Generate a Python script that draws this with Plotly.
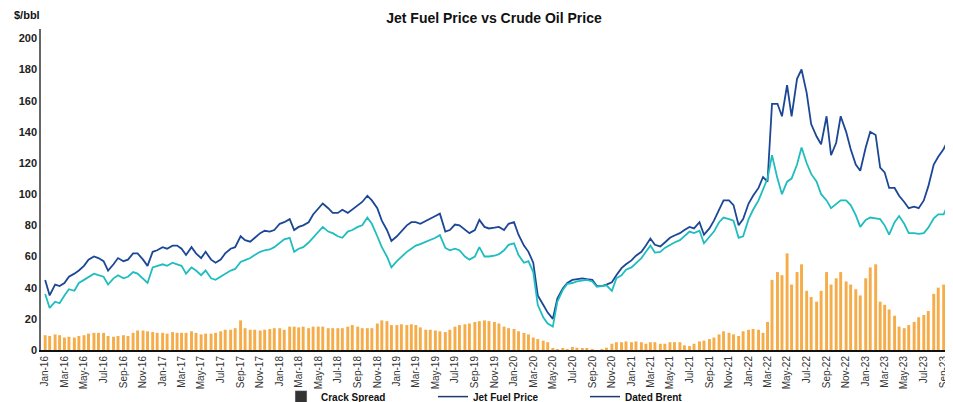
import pandas as pd
import plotly.graph_objects as go

# Semi-monthly observations (1st and 15th of each month), Jan-2016 .. Sep-2023, plus last day shown
dates = list(pd.date_range("2016-01-01", "2023-09-15", freq="SMS")) + [pd.Timestamp("2023-09-28")]

jet_fuel = [
    45, 35, 42, 41, 43, 47, 49, 51, 54, 58,
    60, 59, 57, 51, 55, 59, 57, 58, 62, 62,
    58, 54, 63, 64, 66, 65, 67, 67, 65, 61,
    66, 62, 59, 63, 58, 56, 58, 62, 65, 66,
    73, 70.5, 69.5, 72, 75, 76.5, 76, 77, 81, 82,
    84, 77, 79, 80, 82, 87, 91, 94, 91, 88,
    88, 90, 88, 90, 93, 95, 99, 96, 91, 83,
    77, 70, 73, 76, 80, 82, 82, 81, 83, 84.5,
    86, 87.5, 76, 77, 80.5, 80, 77, 75, 77, 83.5,
    79, 78, 78.5, 79, 77, 81, 82, 74, 67, 63,
    56, 35, 29, 24, 20, 33, 39.5, 43, 45, 45.5,
    46, 45.5, 45, 41, 41, 42, 43.5, 48, 52.5, 55,
    57.5, 60.5, 63, 67, 71.5, 67.5, 66.5, 69, 72, 73.5,
    75, 77, 79, 78, 82, 74, 78, 83, 90, 96,
    96, 93, 80, 84, 94, 99, 104, 111, 108, 158,
    158, 150, 170, 150, 174, 180, 165, 145, 137, 132,
    150, 125, 133, 150, 140, 129, 119, 115, 130, 140,
    138, 117, 114, 104, 104, 99, 95, 91, 92, 91,
    96, 105, 119, 124, 129, 135,
    131,
]

dated_brent = [
    36, 27, 31, 30, 35, 39, 38, 43, 45, 47,
    49, 48, 47, 42, 46, 48, 46, 47, 50, 49,
    46, 43, 53, 54, 55, 54, 56, 55, 54, 49,
    53, 51, 48, 51, 46, 45, 47, 49, 51, 52,
    56.5, 57.7, 59, 61, 63, 64, 64.5, 66, 69, 71,
    72, 63, 65, 66, 69, 72, 76, 79, 76, 75,
    73, 72, 76, 77, 79, 80, 85, 81, 73, 66,
    60, 53, 57, 60, 63, 65, 67, 68, 69.4, 70.5,
    72, 73.7, 65.5, 64, 65, 64, 60, 58, 60, 66,
    60, 60, 60.5, 61.5, 64, 67.5, 68.5, 61, 56, 57,
    50, 29, 21, 17, 15, 31, 38.5, 42.5, 43, 44,
    44.5, 45, 44, 40.5, 41, 41.5, 38, 46, 48, 51.5,
    53, 56, 59, 63, 67, 62.5, 63, 65.5, 67.5, 69,
    70.5, 73, 76, 75, 76.5, 68.5, 72.5, 76, 82, 85,
    84, 83, 72, 73, 84, 90, 96, 103, 110, 125,
    110, 100, 108, 110, 119, 130, 120, 113, 108, 100,
    96, 91, 94, 96, 96, 93, 86.5, 79, 83.5, 85,
    84.5, 84, 80, 74, 82, 86, 81, 75, 75, 74.5,
    75, 78.5, 84.5, 87, 87, 94,
    96,
]

crack_spread = [
    9.5, 9, 10, 9.5, 8, 8.5, 8, 9, 9.5, 10.5,
    11, 11, 11, 9, 8.5, 9, 9.5, 9, 11, 12.5,
    12.5, 12, 11.5, 11, 11, 10.5, 11.5, 11, 11, 11,
    12, 11, 10, 10.5, 10.5, 11, 12, 13, 13, 14,
    19, 14, 13, 13, 12.5, 13, 13.5, 14, 14, 13,
    15, 15, 14.5, 15, 14, 15, 15, 15, 14, 14,
    14, 14, 15, 16, 15, 14, 14, 14, 17, 19,
    18.5, 16, 16, 16.5, 16, 16.5, 16, 14.5, 13, 13,
    12.5, 12, 11.5, 13, 15, 16, 16.5, 17, 18, 18.5,
    19, 18.5, 18, 17, 15, 14, 13.5, 12, 11, 10,
    8, 7, 6, 5, 1, 0.5, 1, 0.5, 2, 1.5,
    1, 1, 0.5, 0, 0.3, 1.5, 4, 5, 5, 5.5,
    5, 5.5, 5, 4, 5, 5, 4, 4, 5, 5,
    5, 3, 2.5, 4, 5.5, 6, 7, 8, 10, 12,
    11, 10, 9, 12, 13, 13.5, 13, 11, 18, 45,
    50, 48, 62, 42, 50, 55, 38, 34, 31, 38,
    50, 42, 46, 50, 44, 42, 39, 35, 46, 53,
    55, 31, 29, 26, 22, 15, 14, 16, 18, 21,
    22.5, 25, 36, 40, 42, 41,
    36,
]

y_ticks = [0, 20, 40, 60, 80, 100, 120, 140, 160, 180, 200]

assert len(dates) == len(jet_fuel) == len(dated_brent) == len(crack_spread)

FONT = "Liberation Sans, Arial, sans-serif"

# The page body keeps its default 8px margin, so the figure is drawn 8px smaller.
W, H = 945, 394
L, R, T, B = 33, 0, 21, 52
PW, PH = W - L - R, H - T - B

fig = go.Figure()
fig.add_trace(go.Bar(x=dates, y=crack_spread, marker_color="#F6AC48",
                     marker_line_width=0, showlegend=False, name="Crack Spread"))
fig.add_trace(go.Scatter(x=dates, y=jet_fuel, mode="lines",
                         line=dict(color="#1B4796", width=1.8), showlegend=False, name="Jet Fuel Price"))
fig.add_trace(go.Scatter(x=dates, y=dated_brent, mode="lines",
                         line=dict(color="#1FBDBF", width=1.8), showlegend=False, name="Dated Brent"))

# legend entries (the reference legend uses dark swatches)
fig.add_trace(go.Bar(x=[None], y=[None], marker_color="#333333", name="Crack Spread"))
fig.add_trace(go.Scatter(x=[None], y=[None], mode="lines", line=dict(color="#1E3A70", width=1.5),
                         name="Jet Fuel Price"))
fig.add_trace(go.Scatter(x=[None], y=[None], mode="lines", line=dict(color="#1E3A70", width=1.5),
                         name="Dated Brent"))

fig.update_layout(
    width=W, height=H,
    margin=dict(l=L, r=R, t=T, b=B, autoexpand=False),
    paper_bgcolor="white", plot_bgcolor="white",
    bargap=0.3,
    font=dict(family=FONT, color="#222"),
    title=dict(text="<b>Jet Fuel Price vs Crude Oil Price</b>", x=486 / W, xanchor="center",
               y=1 - 10 / H, yanchor="middle", font=dict(size=14, color="#111", family=FONT)),
    showlegend=True,
    legend=dict(orientation="h", x=0.5 + 12 / PW, xanchor="center", y=-0.10, yanchor="top",
                font=dict(size=10, color="#111", family=FONT, weight="bold"),
                entrywidth=107, itemwidth=30, bgcolor="rgba(0,0,0,0)"),
    xaxis=dict(type="date", range=["2015-12-19", "2023-09-30"],
               tick0="2016-01-01", dtick="M2", tickformat="%b-%y", tickangle=-90,
               tickfont=dict(size=10, color="#333", family=FONT),
               showgrid=False, zeroline=False, showline=True, linecolor="#111", linewidth=2,
               ticks=""),
    yaxis=dict(range=[0, 206], tickvals=y_ticks, showgrid=False, zeroline=False,
               showline=True, linecolor="#666", linewidth=1.5, ticks="",
               tickfont=dict(size=11, color="#222", family=FONT, weight="bold")),
    annotations=[dict(text="<b>$/bbl</b>", xref="paper", yref="paper",
                      x=(4 - L) / PW, y=1 + (T - 7) / PH, xanchor="left", yanchor="middle",
                      showarrow=False, font=dict(size=11, color="#111", family=FONT))],
)

fig.write_html("out.html")
